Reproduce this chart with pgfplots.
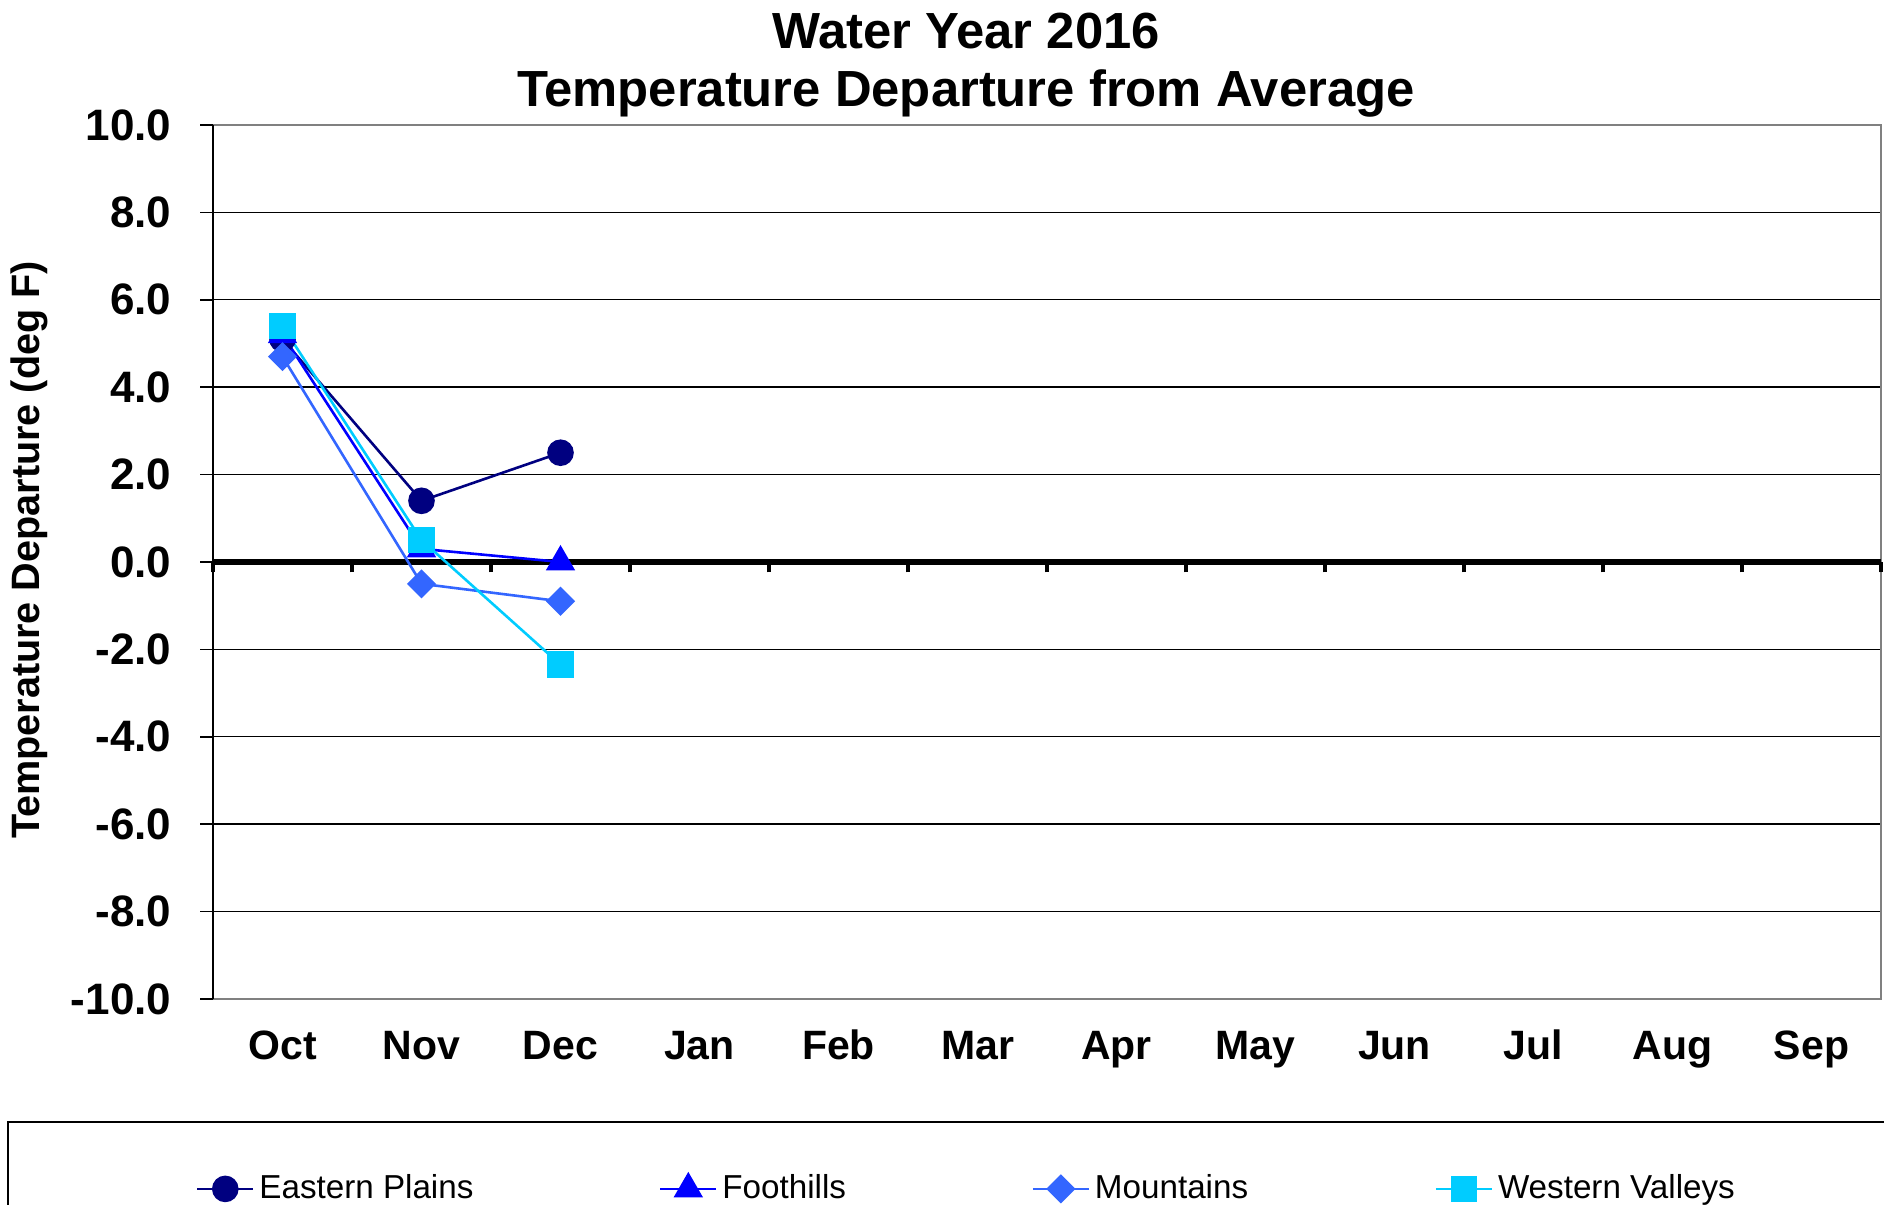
\documentclass[border=0pt]{standalone}
\usepackage{pgfplots}
\pgfplotsset{compat=1.18}
\usepackage{fontspec}
\setmainfont{Liberation Sans}
\definecolor{cEP}{HTML}{000080}
\definecolor{cFH}{HTML}{0000FF}
\definecolor{cMT}{HTML}{3366FF}
\definecolor{cWV}{HTML}{00CCFF}
\begin{document}
\begin{tikzpicture}
\pgfplotsset{
  common/.style={scale only axis, width=417pt, height=218.5pt,
    at={(53.25pt,51.5pt)}, anchor=south west,
    xmin=-0.5, xmax=11.5, ymin=-10, ymax=10},
}
% frame, grid and labels
\begin{axis}[common,
  axis line style={draw=gray, line width=0.5pt},
  xtick={0,1,2,3,4,5,6,7,8,9,10,11},
  xticklabels={Oct,Nov,Dec,Jan,Feb,Mar,Apr,May,Jun,Jul,Aug,Sep},
  ytick={-10,-8,-6,-4,-2,0,2,4,6,8,10},
  yticklabels={-10.0,-8.0,-6.0,-4.0,-2.0,0.0,2.0,4.0,6.0,8.0,10.0},
  major tick length=0pt,
  ymajorgrids, grid style={black, line width=0.35pt},
  xticklabel style={font=\fontsize{10.25}{12}\selectfont\bfseries, anchor=base, inner sep=0pt, yshift=-15.2pt},
  yticklabel style={font=\fontsize{11}{13}\selectfont\bfseries, anchor=east, inner sep=0pt, xshift=-10.25pt},
  ylabel={Temperature Departure (deg F)},
  ylabel style={font=\fontsize{9.9}{12}\selectfont\bfseries, at={(axis description cs:-0.1103,0.5137)}, anchor=center},
  title={Water Year 2016\\Temperature Departure from Average},
  title style={font=\fontsize{12.7}{14.5}\selectfont\bfseries, align=center,
    at={(axis description cs:0.4514,1)}, anchor=north, inner sep=0pt, yshift=22.25pt},
]
\end{axis}
% zero line with category boundary ticks
\begin{axis}[common,
  axis x line*=middle, axis y line=none,
  xtick={-0.5,0.5,1.5,2.5,3.5,4.5,5.5,6.5,7.5,8.5,9.5,10.5,11.5},
  xticklabels={},
  tick align=outside, major tick length=2.6pt,
  x axis line style={black, line width=1.3pt, -},
  tick style={black, line width=1pt},
]
\end{axis}
% left spine and data
\begin{axis}[common,
  axis y line*=left, axis x line=none,
  ytick={-10,-8,-6,-4,-2,0,2,4,6,8,10},
  yticklabels={},
  tick align=outside, major tick length=3.25pt,
  y axis line style={black, line width=0.6pt, -},
  tick style={black, line width=0.4pt},
  legend columns=4,
  legend cell align=left,
  legend style={at={(axis description cs:-0.0102,-0.2173)}, anchor=west,
    draw=none, fill=none, inner sep=0pt, outer sep=0pt,
    nodes={inner sep=0pt, font=\fontsize{8.3}{10}\selectfont},
    column sep=0pt, row sep=0pt},
  legend image code/.code={\draw[mark repeat=2,mark phase=2,#1] plot coordinates {(0pt,0pt) (7pt,0pt) (14pt,0pt)};},
]
\addplot[color=cEP, line width=0.65pt, mark=*, mark size=3.0pt, mark options={solid, fill=cEP}]
  coordinates {(0,5.1) (1,1.4) (2,2.5)};
\addlegendentry{\hspace*{1.2pt}\makebox[99.9pt][l]{\raisebox{0pt}[6.1pt][0pt]{Eastern Plains}}}
\addplot[color=cFH, line width=0.65pt, mark=triangle*, mark size=3.6pt, mark options={solid, fill=cFH}]
  coordinates {(0,5.2) (1,0.3) (2,0.0)};
\addlegendentry{\hspace*{1.2pt}\makebox[77.3pt][l]{\raisebox{0pt}[6.1pt][0pt]{Foothills}}}
\addplot[color=cMT, line width=0.65pt, mark=square*, mark size=2.25pt, mark options={solid, fill=cMT, rotate=45}]
  coordinates {(0,4.7) (1,-0.5) (2,-0.9)};
\addlegendentry{\hspace*{1.2pt}\makebox[84.9pt][l]{\raisebox{0pt}[6.1pt][0pt]{Mountains}}}
\addplot[color=cWV, line width=0.65pt, mark=square*, mark size=3pt, mark options={solid, fill=cWV}]
  coordinates {(0,5.4) (1,0.5) (2,-2.35)};
\addlegendentry{\hspace*{1.2pt}\makebox[80pt][l]{\raisebox{0pt}[6.1pt][0pt]{Western Valleys}}}
\end{axis}
\draw[black, line width=0.6pt] (2pt,-30pt) rectangle (500pt,20.75pt);
\pgfresetboundingbox
\useasboundingbox (0,0) rectangle (471pt,301.25pt);
\end{tikzpicture}
\end{document}
